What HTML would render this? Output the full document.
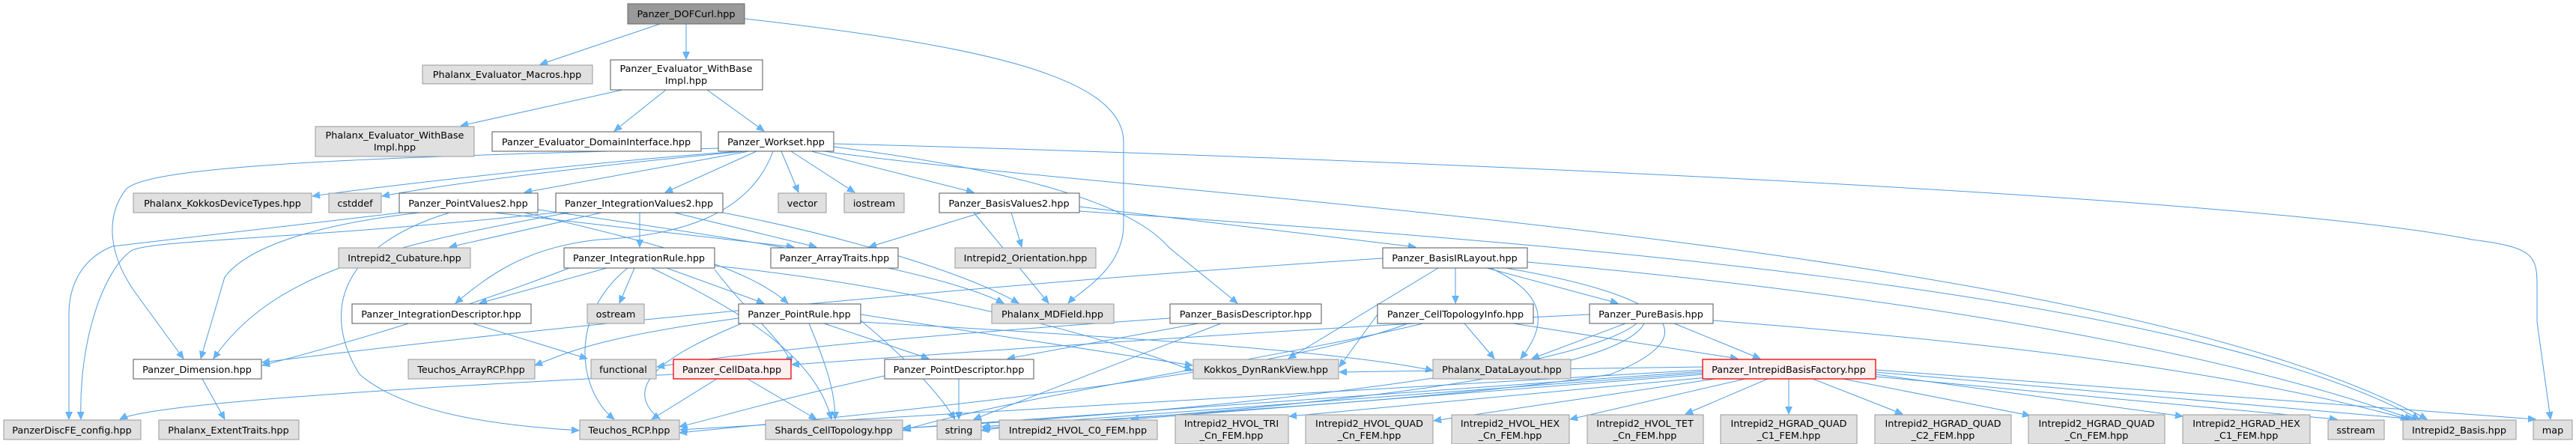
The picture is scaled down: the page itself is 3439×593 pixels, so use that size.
<!DOCTYPE html>
<html><head><meta charset="utf-8"><style>
html,body{margin:0;padding:0;background:#fff;}
svg{display:block;}
text{font-family:"DejaVu Sans","Liberation Sans",sans-serif;font-size:12.8px;fill:#000;text-anchor:middle;}
.w{fill:#fff;stroke:#555;stroke-width:1;}
.g{fill:#e0e0e0;stroke:#999;stroke-width:1;}
.r{fill:#fff0f0;stroke:#e00;stroke-width:1.3;}
.root{fill:#999;stroke:#666;stroke-width:1;}
.e path{fill:none;stroke:#4f9ce0;stroke-width:1;}
</style></head><body>
<svg width="3439" height="593" viewBox="0 0 3439 593" xmlns="http://www.w3.org/2000/svg">
<defs><marker id="a" markerWidth="11" markerHeight="9" refX="10" refY="4.5" orient="auto" markerUnits="userSpaceOnUse"><path d="M0,0 L10,4.5 L0,9z" fill="#63b8ff" stroke="#4f9ce0" stroke-width=".6"/></marker></defs>
<g class="e" marker-end="url(#a)">
<path d="M881,32 L721,86" marker-end="url(#a)"/>
<path d="M916,32 L916,79" marker-end="url(#a)"/>
<path d="M994,25 C1300,60 1500,100 1500,190 L1500,300 C1500,360 1440,390 1426,405" marker-end="url(#a)"/>
<path d="M831,120 L615,168" marker-end="url(#a)"/>
<path d="M889,120 L820,175" marker-end="url(#a)"/>
<path d="M944,120 L1020,175" marker-end="url(#a)"/>
<path d="M990,202 C800,215 500,250 417,262" marker-end="url(#a)"/>
<path d="M995,202 C800,220 600,245 510,262" marker-end="url(#a)"/>
<path d="M1000,202 L700,257" marker-end="url(#a)"/>
<path d="M1010,202 L888,257" marker-end="url(#a)"/>
<path d="M1043,202 L1066,257" marker-end="url(#a)"/>
<path d="M1056,202 L1141,257" marker-end="url(#a)"/>
<path d="M1083,202 L1300,257" marker-end="url(#a)"/>
<path d="M960,198 C500,210 200,220 168,253 C140,290 145,340 180,390 L245,479" marker-end="url(#a)"/>
<path d="M1032,202 C1000,290 900,315 800,320 C700,330 650,370 608,405" marker-end="url(#a)"/>
<path d="M1113,196 C1300,220 1500,260 1560,330 L1652,405" marker-end="url(#a)"/>
<path d="M1113,192 C1800,210 3000,260 3300,320 C3380,330 3387,340 3387,380 L3387,430 L3405,560" marker-end="url(#a)"/>
<path d="M1100,202 C1500,260 2800,320 3240,560" marker-end="url(#a)"/>
<path d="M536,284 L150,329 C110,345 92,380 92,420 L92,560" marker-end="url(#a)"/>
<path d="M560,284 C420,300 330,330 300,370 L268,479" marker-end="url(#a)"/>
<path d="M660,284 L1060,330" marker-end="url(#a)"/>
<path d="M700,284 C900,330 1000,360 1052,405" marker-end="url(#a)"/>
<path d="M718,280 C1000,320 1250,360 1340,405" marker-end="url(#a)"/>
<path d="M600,284 C450,330 430,420 480,500 C550,560 700,570 773,575" marker-end="url(#a)"/>
<path d="M854,284 L854,330" marker-end="url(#a)"/>
<path d="M803,284 L600,330" marker-end="url(#a)"/>
<path d="M900,284 L1090,330" marker-end="url(#a)"/>
<path d="M742,284 C400,320 200,320 175,335 C140,360 105,450 108,560" marker-end="url(#a)"/>
<path d="M760,284 C500,330 360,370 285,479" marker-end="url(#a)"/>
<path d="M965,284 C1150,320 1300,370 1360,405" marker-end="url(#a)"/>
<path d="M810,358 L640,405" marker-end="url(#a)"/>
<path d="M847,358 L827,405" marker-end="url(#a)"/>
<path d="M890,358 L1020,405" marker-end="url(#a)"/>
<path d="M760,358 C600,420 420,470 350,488" marker-end="url(#a)"/>
<path d="M870,358 C1000,420 1090,480 1110,560" marker-end="url(#a)"/>
<path d="M838,358 C760,420 770,520 820,560" marker-end="url(#a)"/>
<path d="M954,355 C1200,380 1450,440 1592,495" marker-end="url(#a)"/>
<path d="M954,360 C1000,420 1050,460 1056,486" marker-end="url(#a)"/>
<path d="M1100,432 L1240,479" marker-end="url(#a)"/>
<path d="M1080,432 C1100,480 1115,520 1115,560" marker-end="url(#a)"/>
<path d="M990,432 C900,470 800,520 907,577" marker-end="url(#a)"/>
<path d="M1149,430 C1500,450 1800,470 1913,495" marker-end="url(#a)"/>
<path d="M1149,420 L1592,488" marker-end="url(#a)"/>
<path d="M986,425 C800,450 760,470 714,488" marker-end="url(#a)"/>
<path d="M1149,428 C1200,470 1250,520 1275,560" marker-end="url(#a)"/>
<path d="M631,432 L784,479" marker-end="url(#a)"/>
<path d="M957,506 L870,560" marker-end="url(#a)"/>
<path d="M998,506 L1090,560" marker-end="url(#a)"/>
<path d="M899,500 C500,520 200,540 160,560" marker-end="url(#a)"/>
<path d="M1280,506 L1280,560" marker-end="url(#a)"/>
<path d="M1190,500 C1050,530 950,560 907,570" marker-end="url(#a)"/>
<path d="M270,506 L300,560" marker-end="url(#a)"/>
<path d="M1350,284 L1364,330" marker-end="url(#a)"/>
<path d="M1441,276 L1890,330" marker-end="url(#a)"/>
<path d="M1310,284 L1160,330" marker-end="url(#a)"/>
<path d="M1441,282 C2000,320 2900,380 3230,560" marker-end="url(#a)"/>
<path d="M1300,284 L1400,405" marker-end="url(#a)"/>
<path d="M1943,358 L1943,405" marker-end="url(#a)"/>
<path d="M1985,358 L2160,405" marker-end="url(#a)"/>
<path d="M1990,358 C2060,390 2070,430 2030,479" marker-end="url(#a)"/>
<path d="M1846,345 C1300,380 700,440 350,484" marker-end="url(#a)"/>
<path d="M1920,358 L1720,479" marker-end="url(#a)"/>
<path d="M2039,350 C2600,400 3000,480 3220,560" marker-end="url(#a)"/>
<path d="M2010,358 C2200,390 2300,440 2150,500 C1900,540 1400,560 1310,575" marker-end="url(#a)"/>
<path d="M1955,432 L1995,479" marker-end="url(#a)"/>
<path d="M2020,432 L2320,479" marker-end="url(#a)"/>
<path d="M1900,432 C1700,480 1350,530 1205,575" marker-end="url(#a)"/>
<path d="M1880,432 C1700,500 1200,550 907,578" marker-end="url(#a)"/>
<path d="M1839,420 L1788,490" marker-end="url(#a)"/>
<path d="M2170,432 L2045,479" marker-end="url(#a)"/>
<path d="M2235,432 L2350,479" marker-end="url(#a)"/>
<path d="M2287,428 C2700,460 3000,500 3215,560" marker-end="url(#a)"/>
<path d="M2122,420 C1700,440 1300,470 1057,487" marker-end="url(#a)"/>
<path d="M2185,432 C2100,500 1600,550 1205,572" marker-end="url(#a)"/>
<path d="M2195,432 C2150,520 1500,560 1312,572" marker-end="url(#a)"/>
<path d="M1630,432 L1300,560" marker-end="url(#a)"/>
<path d="M1562,425 C1200,450 1000,470 877,490" marker-end="url(#a)"/>
<path d="M1600,432 L1345,479" marker-end="url(#a)"/>
<path d="M2388,506 L2388,553" marker-end="url(#a)"/>
<path d="M2360,506 L2250,553" marker-end="url(#a)"/>
<path d="M2330,506 L2096,560" marker-end="url(#a)"/>
<path d="M2290,506 L1914,562" marker-end="url(#a)"/>
<path d="M2280,504 L1721,556" marker-end="url(#a)"/>
<path d="M2275,500 L1510,560" marker-end="url(#a)"/>
<path d="M2275,498 L1311,570" marker-end="url(#a)"/>
<path d="M2275,496 L1206,572" marker-end="url(#a)"/>
<path d="M2275,494 L908,574" marker-end="url(#a)"/>
<path d="M2420,506 L2540,553" marker-end="url(#a)"/>
<path d="M2460,506 L2710,555" marker-end="url(#a)"/>
<path d="M2504,500 L2914,556" marker-end="url(#a)"/>
<path d="M2504,503 L3120,560" marker-end="url(#a)"/>
<path d="M2504,497 L3225,560" marker-end="url(#a)"/>
<path d="M2504,494 L3385,560" marker-end="url(#a)"/>
<path d="M2275,490 L1788,497" marker-end="url(#a)"/>
</g>
<g>
<rect class="root" x="838" y="5" width="156" height="27"/><text x="916" y="23">Panzer_DOFCurl.hpp</text>
<rect class="g" x="564" y="87" width="227" height="25"/><text x="677" y="104">Phalanx_Evaluator_Macros.hpp</text>
<rect class="w" x="815" y="80" width="203" height="40"/><text x="916" y="96">Panzer_Evaluator_WithBase</text><text x="916" y="112">Impl.hpp</text>
<rect class="g" x="421" y="169" width="212" height="40"/><text x="527" y="185">Phalanx_Evaluator_WithBase</text><text x="527" y="201">Impl.hpp</text>
<rect class="w" x="657" y="176" width="279" height="26"/><text x="796" y="194">Panzer_Evaluator_DomainInterface.hpp</text>
<rect class="w" x="959" y="176" width="154" height="26"/><text x="1036" y="194">Panzer_Workset.hpp</text>
<rect class="g" x="178" y="258" width="238" height="26"/><text x="297" y="276">Phalanx_KokkosDeviceTypes.hpp</text>
<rect class="g" x="439" y="258" width="70" height="26"/><text x="474" y="276">cstddef</text>
<rect class="w" x="533" y="258" width="185" height="26"/><text x="625" y="276">Panzer_PointValues2.hpp</text>
<rect class="w" x="742" y="258" width="223" height="26"/><text x="853" y="276">Panzer_IntegrationValues2.hpp</text>
<rect class="g" x="1039" y="258" width="64" height="26"/><text x="1071" y="276">vector</text>
<rect class="g" x="1127" y="258" width="80" height="26"/><text x="1167" y="276">iostream</text>
<rect class="w" x="1254" y="258" width="187" height="26"/><text x="1347" y="276">Panzer_BasisValues2.hpp</text>
<rect class="g" x="452" y="331" width="176" height="27"/><text x="540" y="349">Intrepid2_Cubature.hpp</text>
<rect class="w" x="753" y="331" width="201" height="27"/><text x="853" y="349">Panzer_IntegrationRule.hpp</text>
<rect class="w" x="1029" y="331" width="170" height="27"/><text x="1114" y="349">Panzer_ArrayTraits.hpp</text>
<rect class="g" x="1275" y="331" width="188" height="27"/><text x="1369" y="349">Intrepid2_Orientation.hpp</text>
<rect class="w" x="1846" y="331" width="193" height="27"/><text x="1942" y="349">Panzer_BasisIRLayout.hpp</text>
<rect class="w" x="470" y="406" width="239" height="26"/><text x="589" y="424">Panzer_IntegrationDescriptor.hpp</text>
<rect class="g" x="784" y="406" width="76" height="26"/><text x="822" y="424">ostream</text>
<rect class="w" x="986" y="406" width="163" height="26"/><text x="1067" y="424">Panzer_PointRule.hpp</text>
<rect class="g" x="1324" y="406" width="163" height="26"/><text x="1405" y="424">Phalanx_MDField.hpp</text>
<rect class="w" x="1562" y="406" width="202" height="26"/><text x="1663" y="424">Panzer_BasisDescriptor.hpp</text>
<rect class="w" x="1839" y="406" width="208" height="26"/><text x="1943" y="424">Panzer_CellTopologyInfo.hpp</text>
<rect class="w" x="2122" y="406" width="165" height="26"/><text x="2204" y="424">Panzer_PureBasis.hpp</text>
<rect class="w" x="178" y="480" width="171" height="26"/><text x="263" y="498">Panzer_Dimension.hpp</text>
<rect class="g" x="545" y="480" width="169" height="26"/><text x="629" y="498">Teuchos_ArrayRCP.hpp</text>
<rect class="g" x="789" y="480" width="87" height="26"/><text x="832" y="498">functional</text>
<rect class="r" x="899" y="480" width="157" height="26"/><text x="977" y="498">Panzer_CellData.hpp</text>
<rect class="w" x="1181" y="480" width="199" height="26"/><text x="1280" y="498">Panzer_PointDescriptor.hpp</text>
<rect class="g" x="1593" y="480" width="194" height="26"/><text x="1690" y="498">Kokkos_DynRankView.hpp</text>
<rect class="g" x="1913" y="480" width="184" height="26"/><text x="2005" y="498">Phalanx_DataLayout.hpp</text>
<rect class="r" x="2273" y="480" width="231" height="26"/><text x="2388" y="498">Panzer_IntrepidBasisFactory.hpp</text>
<rect class="g" x="5" y="561" width="183" height="26"/><text x="96" y="579">PanzerDiscFE_config.hpp</text>
<rect class="g" x="212" y="561" width="187" height="26"/><text x="305" y="579">Phalanx_ExtentTraits.hpp</text>
<rect class="g" x="774" y="561" width="133" height="26"/><text x="840" y="579">Teuchos_RCP.hpp</text>
<rect class="g" x="1022" y="561" width="183" height="26"/><text x="1113" y="579">Shards_CellTopology.hpp</text>
<rect class="g" x="1251" y="561" width="59" height="26"/><text x="1280" y="579">string</text>
<rect class="g" x="1334" y="561" width="211" height="26"/><text x="1439" y="579">Intrepid2_HVOL_C0_FEM.hpp</text>
<rect class="g" x="1569" y="554" width="151" height="39"/><text x="1644" y="570">Intrepid2_HVOL_TRI</text><text x="1644" y="586">_Cn_FEM.hpp</text>
<rect class="g" x="1743" y="554" width="170" height="39"/><text x="1828" y="570">Intrepid2_HVOL_QUAD</text><text x="1828" y="586">_Cn_FEM.hpp</text>
<rect class="g" x="1938" y="554" width="157" height="39"/><text x="2016" y="570">Intrepid2_HVOL_HEX</text><text x="2016" y="586">_Cn_FEM.hpp</text>
<rect class="g" x="2119" y="554" width="155" height="39"/><text x="2196" y="570">Intrepid2_HVOL_TET</text><text x="2196" y="586">_Cn_FEM.hpp</text>
<rect class="g" x="2297" y="554" width="182" height="39"/><text x="2388" y="570">Intrepid2_HGRAD_QUAD</text><text x="2388" y="586">_C1_FEM.hpp</text>
<rect class="g" x="2503" y="554" width="182" height="39"/><text x="2594" y="570">Intrepid2_HGRAD_QUAD</text><text x="2594" y="586">_C2_FEM.hpp</text>
<rect class="g" x="2708" y="554" width="182" height="39"/><text x="2799" y="570">Intrepid2_HGRAD_QUAD</text><text x="2799" y="586">_Cn_FEM.hpp</text>
<rect class="g" x="2914" y="554" width="170" height="39"/><text x="2999" y="570">Intrepid2_HGRAD_HEX</text><text x="2999" y="586">_C1_FEM.hpp</text>
<rect class="g" x="3108" y="561" width="75" height="26"/><text x="3145" y="579">sstream</text>
<rect class="g" x="3208" y="561" width="151" height="26"/><text x="3283" y="579">Intrepid2_Basis.hpp</text>
<rect class="g" x="3382" y="561" width="52" height="26"/><text x="3408" y="579">map</text>
</g>
</svg>
</body></html>
